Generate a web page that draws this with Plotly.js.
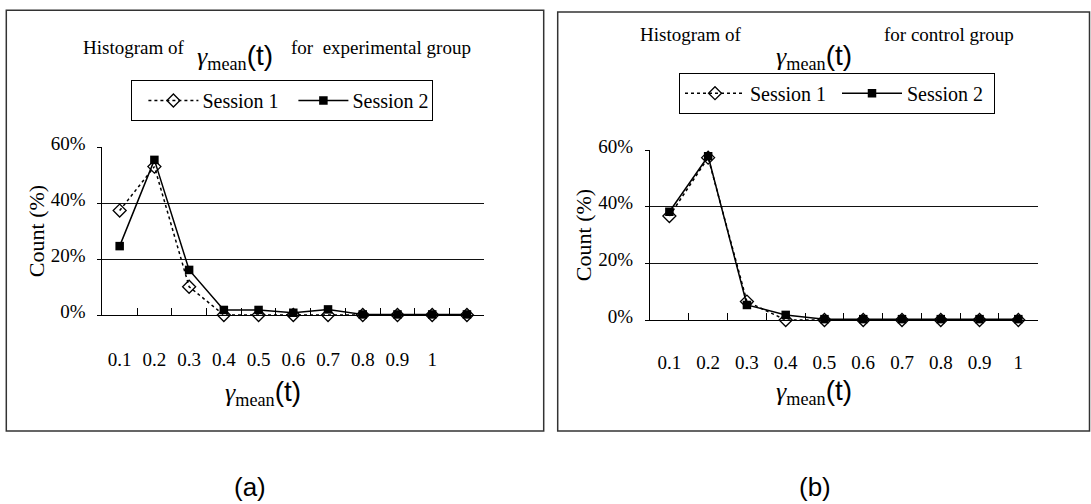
<!DOCTYPE html>
<html>
<head>
<meta charset="utf-8">
<script src="https://cdn.plot.ly/plotly-3.0.1.min.js"></script>
<style>
  html, body { margin: 0; padding: 0; background: #fff; }
  #chart { width: 1091px; height: 504px; }
</style>
</head>
<body>
<div id="chart"></div>
<script>
// ---- Data ----
const categoriesA = ['0.1', '0.2', '0.3', '0.4', '0.5', '0.6', '0.7', '0.8', '0.9', '1', ' '];
const expSession1 = [37.3, 53.0, 10.1, 0, 0, 0, 0, 0, 0, 0, 0];
const expSession2 = [24.6, 55.4, 16.1, 1.8, 1.8, 0.8, 2.0, 0.2, 0.2, 0.2, 0.2];

const categoriesB = ['0.1', '0.2', '0.3', '0.4', '0.5', '0.6', '0.7', '0.8', '0.9', '1'];
const ctlSession1 = [36.7, 57.3, 6.5, 0, 0, 0, 0, 0, 0, 0];
const ctlSession2 = [38.2, 57.8, 5.3, 1.8, 0.3, 0.3, 0.3, 0.3, 0.3, 0.3];

const seriesNames = ['Session 1', 'Session 2'];
const yTickVals = [0, 20, 40, 60];
const yTickText = ['0%', '20%', '40%', '60%'];
const titleA = ['Histogram of', 'for  experimental group'];
const titleB = ['Histogram of', 'for control group'];
const yTitle = 'Count (%)';
const gammaText = '<i>γ</i><sub>mean</sub><span style="font-family:\'Liberation Sans\', Arial, sans-serif;font-size:28px">(t)</span>';
const panelLabels = ['(a)', '(b)'];

// ---- Layout helpers (pixel -> paper, margins are zero) ----
const W = 1091, H = 504;
const fx = px => px / W;
const fy = py => 1 - py / H;
const SERIF = "Liberation Serif, Times New Roman, serif";
const SANS = "Liberation Sans, Arial, sans-serif";

const s1Style = {
  mode: 'lines+markers',
  line: { color: '#000', width: 1.5, dash: 'dot' },
  marker: { symbol: 'diamond-open', size: 10, color: '#000', line: { color: '#000', width: 1.3 } },
  cliponaxis: false
};
const s2Style = {
  mode: 'lines+markers',
  line: { color: '#000', width: 1.5, dash: 'solid' },
  marker: { symbol: 'square', size: 8.5, color: '#000' },
  cliponaxis: false
};

const traces = [
  Object.assign({ x: categoriesA, y: expSession1, name: seriesNames[0], xaxis: 'x', yaxis: 'y', legend: 'legend' }, s1Style),
  Object.assign({ x: categoriesA, y: expSession2, name: seriesNames[1], xaxis: 'x', yaxis: 'y', legend: 'legend' }, s2Style),
  Object.assign({ x: categoriesB, y: ctlSession1, name: seriesNames[0], xaxis: 'x2', yaxis: 'y2', legend: 'legend2' }, s1Style),
  Object.assign({ x: categoriesB, y: ctlSession2, name: seriesNames[1], xaxis: 'x2', yaxis: 'y2', legend: 'legend2' }, s2Style)
];

function xAxis(domain, anchor, n, standoff) {
  return {
    domain: domain, anchor: anchor, type: 'category',
    range: [-0.5, n - 0.5],
    showline: true, linecolor: '#000', linewidth: 1,
    ticks: 'inside', ticklen: 7, tickcolor: '#000', tickwidth: 1,
    tickson: 'boundaries',
    showgrid: false, zeroline: false,
    tickfont: { family: SERIF, size: 19, color: '#000' },
    ticklabelstandoff: standoff,
    fixedrange: true
  };
}
function yAxis(domain, anchor) {
  return {
    domain: domain, anchor: anchor,
    range: [0, 60],
    tickvals: yTickVals, ticktext: yTickText,
    showline: true, linecolor: '#000', linewidth: 1,
    ticks: 'outside', ticklen: 4, tickcolor: '#000',
    showgrid: true, gridcolor: '#111', gridwidth: 1,
    zeroline: false,
    tickfont: { family: SERIF, size: 19, color: '#000' },
    ticklabelstandoff: 8,
    ticklabelshift: -4,
    title: { text: yTitle, font: { family: SERIF, size: 22, color: '#000' } },
    fixedrange: true
  };
}

function ann(text, x, y, size, family) {
  return {
    text: text, xref: 'paper', yref: 'paper', x: fx(x), y: fy(y),
    xanchor: 'center', yanchor: 'middle', showarrow: false,
    font: { family: family || SERIF, size: size, color: '#000' }
  };
}

function legendBox(x, y, entry) {
  return {
    orientation: 'h', x: fx(x), y: fy(y), xanchor: 'left', yanchor: 'top',
    xref: 'paper', yref: 'paper',
    bgcolor: '#fff', bordercolor: '#000', borderwidth: 1,
    font: { family: SERIF, size: 20, color: '#000' },
    itemwidth: 60, entrywidth: entry
  };
}

const layout = {
  width: W, height: H,
  margin: { l: 0, r: 0, t: 0, b: 0 },
  font: { family: SERIF, color: '#000' },
  paper_bgcolor: '#fff', plot_bgcolor: 'rgba(0,0,0,0)',
  showlegend: true,
  xaxis: xAxis([fx(102.3), fx(484.3)], 'y', categoriesA.length, 27),
  yaxis: yAxis([fy(315), fy(147)], 'x'),
  xaxis2: xAxis([fx(650), fx(1037.7)], 'y2', categoriesB.length, 25),
  yaxis2: yAxis([fy(320), fy(150)], 'x2'),
  legend: legendBox(131.4, 80, 75),
  legend2: legendBox(679, 72.7, 82),
  shapes: [
    { type: 'rect', xref: 'paper', yref: 'paper', x0: fx(6.3), x1: fx(543.7), y0: fy(431), y1: fy(10.3),
      line: { color: '#333', width: 1.5 }, fillcolor: 'rgba(0,0,0,0)' },
    { type: 'rect', xref: 'paper', yref: 'paper', x0: fx(557.7), x1: fx(1089.5), y0: fy(431), y1: fy(12),
      line: { color: '#333', width: 1.5 }, fillcolor: 'rgba(0,0,0,0)' }
  ],
  annotations: [
    ann(titleA[0], 133, 47, 19),
    ann(gammaText, 234.6, 57, 26),
    ann(titleA[1], 380.5, 47, 19),
    ann(titleB[0], 690.5, 35, 19),
    ann(gammaText, 814, 57, 26),
    ann(titleB[1], 949, 35, 19),
    ann(gammaText, 263, 393, 26),
    ann(gammaText, 814, 392, 26),
    ann(panelLabels[0], 250, 487, 26, SANS),
    ann(panelLabels[1], 815, 487, 26, SANS)
  ]
};

Plotly.newPlot('chart', traces, layout, { displayModeBar: false, staticPlot: true }).then(function (gd) {
  // Lengthen the legend sample lines (as in the reference) with the marker centred on them.
  gd.querySelectorAll('.legend .legendpoints path').forEach(function (p) {
    p.setAttribute('transform', 'translate(41,0)');
  });
  gd.querySelectorAll('.legend .legendlines path').forEach(function (p) {
    p.setAttribute('d', 'M16,0h50');
  });
});
</script>
</body>
</html>
